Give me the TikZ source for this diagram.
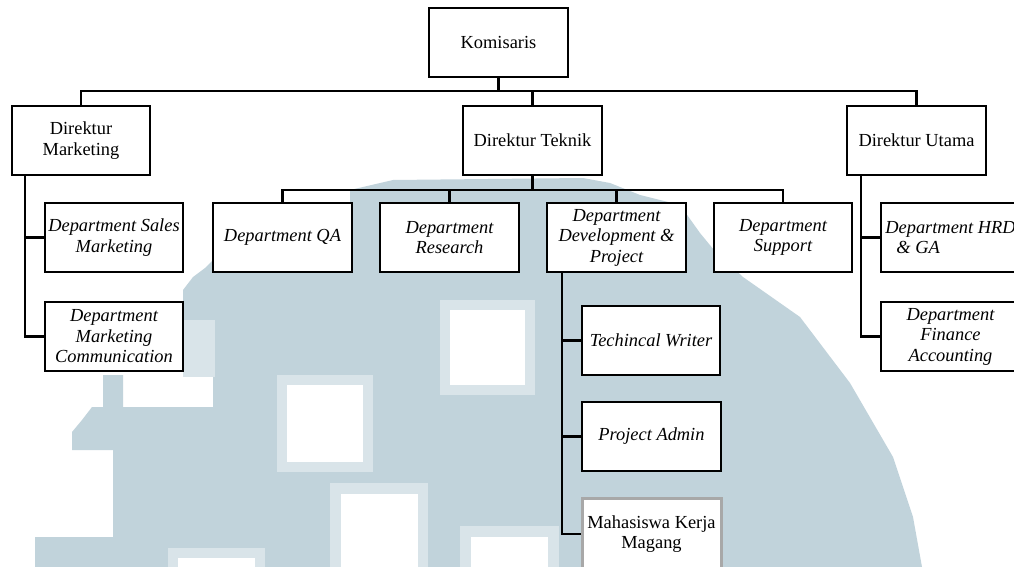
\documentclass[tikz,border=0pt]{standalone}
\usepackage{fontspec}
\setmainfont{Liberation Serif}
\definecolor{wmblue}{RGB}{193,211,219}
\definecolor{wmpale}{RGB}{217,228,233}
\definecolor{mgray}{RGB}{168,168,168}
\tikzset{
  box/.style={draw=black, line width=2.6pt, fill=white, inner sep=0pt, align=center,
    minimum height=69pt, font=\fontsize{18.4}{20.5}\selectfont},
  dbox/.style={box, font=\fontsize{18.4}{20.5}\selectfont\itshape},
  conn/.style={draw=black, line width=2.6pt},
  wmsq/.style={fill=wmpale},
  wmin/.style={fill=white}
}
\begin{document}
\begin{tikzpicture}[x=1pt,y=-1pt]
\useasboundingbox (0,0) rectangle (1014,567);
% watermark
\fill[wmblue] (350,190) -- (393,180) -- (583,178) -- (610,183) -- (640,195) -- (680,205)
  -- (700,233) -- (714,250) -- (743,277) -- (800,317) -- (850,383) -- (893,457)
  -- (913,517) -- (922,567) -- (35,567) -- (35,537) -- (113,537) -- (113,450)
  -- (72,450) -- (72,432) -- (82,420) -- (92,407) -- (103,407) -- (103,375)
  -- (123,375) -- (123,407) -- (213,407) -- (213,320) -- (183,320) -- (183,290)
  -- (193,277) -- (205,268) -- (213,260) -- (213,203) -- (350,203) -- cycle;
\fill[wmpale] (183,320) rectangle (215,377);
\fill[wmsq] (440,300) rectangle (535,395);
\fill[wmin] (450,310) rectangle (525,385);
\fill[wmsq] (277,375) rectangle (373,472);
\fill[wmin] (287,385) rectangle (363,462);
\fill[wmsq] (330,483) rectangle (428,567);
\fill[wmin] (341,494) rectangle (418,567);
\fill[wmsq] (460,526) rectangle (559,567);
\fill[wmin] (471,537) rectangle (548,567);
\fill[wmsq] (168,548) rectangle (265,567);
\fill[wmin] (178,558) rectangle (255,567);

% boxes
\node[box, minimum width=139pt] (kom) at (498.5,42.5) {Komisaris};
\node[box, minimum width=138pt] (dm) at (81,140.5) {Direktur\\Marketing};
\node[box, minimum width=139pt] (dt) at (532.5,140.5) {Direktur Teknik};
\node[box, minimum width=139pt] (du) at (916.5,140.5) {Direktur Utama};
\node[dbox, minimum width=138pt] (sales) at (114,237.5) {Department Sales\\Marketing};
\node[dbox, minimum width=138pt] (comm) at (114,336.5) {Department\\Marketing\\Communication};
\node[dbox, minimum width=139pt] (qa) at (282.5,237.5) {Department QA};
\node[dbox, minimum width=139pt] (res) at (449.5,237.5) {Department\\Research};
\node[dbox, minimum width=139pt] (dev) at (616.5,237.5) {Department\\Development \&\\Project};
\node[dbox, minimum width=138pt] (sup) at (783,237.5) {Department\\Support};
\node[dbox, minimum width=139pt, align=left] (hrd) at (950.5,237.5) {Department HRD\\\hspace*{11pt}\& GA};
\node[dbox, minimum width=139pt] (fin) at (950.5,336.5) {Department\\Finance\\Accounting};
\node[dbox, minimum width=138pt] (tw) at (651,340.5) {Techincal Writer};
\node[dbox, minimum width=139pt] (pa) at (651.5,436.5) {Project Admin};
\node[box, draw=mgray, line width=3pt, minimum width=139pt, minimum height=72pt] (mkm) at (651.5,534) {Mahasiswa Kerja\\Magang};

% helper coordinates
\coordinate (bus1) at (0,91);
\coordinate (bus2) at (0,190);
\coordinate (mx) at (25,0);
\coordinate (ux) at (861,0);
\coordinate (dx) at (562,0);

% top level connectors
\draw[conn] (kom.south) -- (kom.south |- bus1);
\draw[conn] (dm.north) -- (dm.north |- bus1) -- (du.north |- bus1) -- (du.north);
\draw[conn] (dt.north) -- (dt.north |- bus1);

% teknik
\draw[conn] (dt.south) -- (dt.south |- bus2);
\draw[conn] (qa.north) -- (qa.north |- bus2) -- (sup.north |- bus2) -- (sup.north);
\draw[conn] (res.north) -- (res.north |- bus2);
\draw[conn] (dev.north) -- (dev.north |- bus2);

% development
\draw[conn] (dev.south -| dx) |- (mkm.west);
\draw[conn] (tw.west -| dx) -- (tw.west);
\draw[conn] (pa.west -| dx) -- (pa.west);

% marketing
\draw[conn] (dm.south -| mx) |- (comm.west);
\draw[conn] (sales.west -| mx) -- (sales.west);

% utama
\draw[conn] (du.south -| ux) |- (fin.west);
\draw[conn] (hrd.west -| ux) -- (hrd.west);
\end{tikzpicture}
\end{document}
